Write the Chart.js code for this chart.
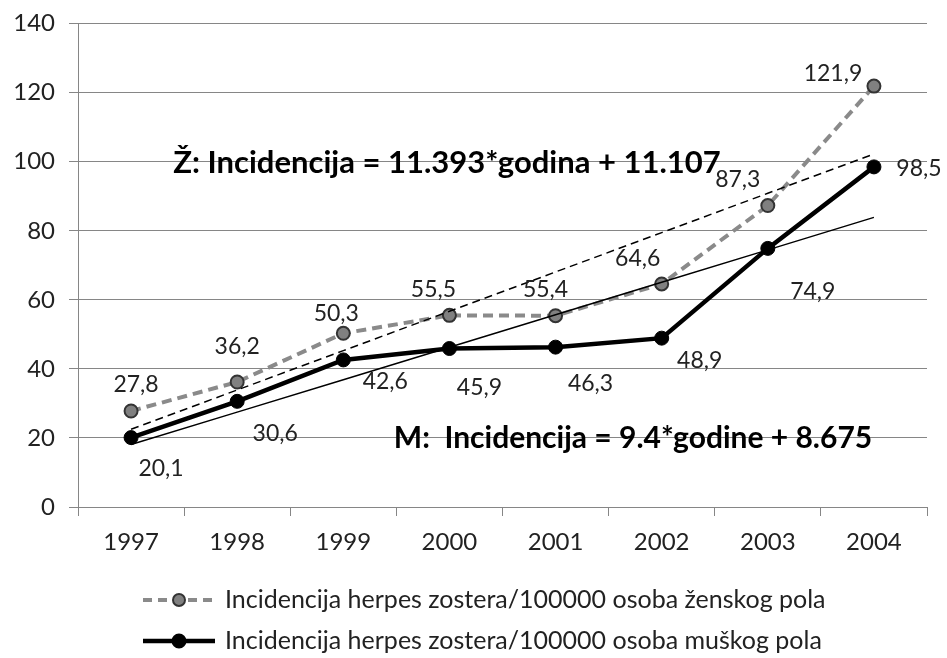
<!DOCTYPE html>
<html><head><meta charset="utf-8">
<style>html,body{margin:0;padding:0;background:#fff;}#wrap{width:947px;height:658px;position:relative;}</style>
<script src="https://cdn.jsdelivr.net/npm/chart.js@4.4.1/dist/chart.umd.min.js"></script>
</head><body><div id="wrap"><canvas id="c" width="947" height="658"></canvas></div>
<script>
const years = ['1997','1998','1999','2000','2001','2002','2003','2004'];
const female = [27.8, 36.2, 50.3, 55.5, 55.4, 64.6, 87.3, 121.9];
const male = [20.1, 30.6, 42.6, 45.9, 46.3, 48.9, 74.9, 98.5];
const femaleLabels = ['27,8','36,2','50,3','55,5','55,4','64,6','87,3','121,9'];
const maleLabels = ['20,1','30,6','42,6','45,9','46,3','48,9','74,9','98,5'];
const femaleTrend = {slope: 11.393, intercept: 11.107};
const maleTrend = {slope: 9.4, intercept: 8.675};
const femaleEq = 'Ž: Incidencija = 11.393*godina + 11.107';
const maleEq = 'M:  Incidencija = 9.4*godine + 8.675';
const legendFemale = 'Incidencija herpes zostera/100000 osoba ženskog pola';
const legendMale = 'Incidencija herpes zostera/100000 osoba muškog pola';

const femaleTrendVals = years.map((y,i)=>femaleTrend.slope*(i+1)+femaleTrend.intercept);
const maleTrendVals = years.map((y,i)=>maleTrend.slope*(i+1)+maleTrend.intercept);

const FONT = 'Lato, "Open Sans", sans-serif';
const fOff = [[5,-26],[0,-35],[-7,-20],[-16,-26],[-10,-26],[-24,-25],[-30,-26],[-41,-13]];
const mOff = [[30,31],[38,32],[42,22],[30,39],[35,36],[38,22],[45,43],[45,2]];

const labelsPlugin = {
  id:'lbls',
  afterDatasetsDraw(chart){
    const ctx = chart.ctx;
    const xs = chart.scales.x, ys = chart.scales.y;
    ctx.save();
    ctx.fillStyle = '#222';
    ctx.font = '23px ' + FONT;
    ctx.textAlign='center'; ctx.textBaseline='middle';
    female.forEach((v,i)=>{
      const px = xs.getPixelForValue(i), py = ys.getPixelForValue(v);
      ctx.fillText(femaleLabels[i], px+fOff[i][0], py+fOff[i][1]);
    });
    male.forEach((v,i)=>{
      const px = xs.getPixelForValue(i), py = ys.getPixelForValue(v);
      ctx.fillText(maleLabels[i], px+mOff[i][0], py+mOff[i][1]);
    });
    ctx.fillStyle='#000';
    ctx.font = 'bold 31px ' + FONT;
    ctx.fillText(femaleEq, 447, 163);
    ctx.font = 'bold 30px ' + FONT;
    ctx.fillText(maleEq, 633, 438);
    // legend
    const rows = [
      {y:600, color:'#8a8a8a', dash:[9,6], lw:4, fill:'#808080', stroke:'#333', r:6, text:legendFemale},
      {y:641, color:'#000', dash:[], lw:4.5, fill:'#000', stroke:'#000', r:6.5, text:legendMale}
    ];
    rows.forEach(r=>{
      ctx.beginPath();
      ctx.setLineDash(r.dash);
      ctx.strokeStyle=r.color; ctx.lineWidth=r.lw;
      ctx.moveTo(143, r.y); ctx.lineTo(215, r.y); ctx.stroke();
      ctx.setLineDash([]);
      ctx.beginPath(); ctx.arc(179, r.y, r.r, 0, Math.PI*2);
      ctx.fillStyle=r.fill; ctx.fill(); ctx.lineWidth=2; ctx.strokeStyle=r.stroke; ctx.stroke();
      ctx.fillStyle='#222'; ctx.font='25px '+FONT; ctx.textAlign='left';
      ctx.fillText(r.text, 225, r.y);
    });
    ctx.restore();
  }
};

new Chart(document.getElementById('c'), {
  type:'line',
  data:{
    labels: years,
    datasets:[
      {label:'trendM', data: maleTrendVals, borderColor:'#000', borderWidth:1.5, pointRadius:0, fill:false, tension:0},
      {label:'trendZ', data: femaleTrendVals, borderColor:'#000', borderWidth:1.5, borderDash:[8,5], pointRadius:0, fill:false, tension:0},
      {label:legendFemale, data: female, borderColor:'#8a8a8a', borderWidth:4, borderDash:[10,6], pointRadius:6.5, pointBackgroundColor:'#808080', pointBorderColor:'#333', pointBorderWidth:2, fill:false, tension:0},
      {label:legendMale, data: male, borderColor:'#000', borderWidth:4.5, pointRadius:7, pointBackgroundColor:'#000', pointBorderColor:'#000', pointBorderWidth:1, fill:false, tension:0}
    ]
  },
  options:{
    responsive:false, animation:false, devicePixelRatio:1,
    layout:{padding:{top:23,right:20,left:0,bottom:0}},
    plugins:{legend:{display:false}, tooltip:{enabled:false}},
    scales:{
      x:{
        offset:true,
        grid:{display:true, drawOnChartArea:false, offset:true, color:'#868686', tickLength:9, lineWidth:1},
        border:{display:true, color:'#868686', width:1},
        ticks:{color:'#222', font:{family:FONT, size:24}, padding:12, maxRotation:0},
        afterFit(s){ s.height = 151; }
      },
      y:{
        min:0, max:140,
        grid:{color:'#868686', tickLength:9, lineWidth:1},
        border:{display:true, color:'#868686', width:1},
        ticks:{stepSize:20, color:'#222', font:{family:FONT, size:24, lineHeight:0.8}, padding:14},
        afterFit(s){ s.width = 78; }
      }
    }
  },
  plugins:[labelsPlugin]
});
</script></body></html>
